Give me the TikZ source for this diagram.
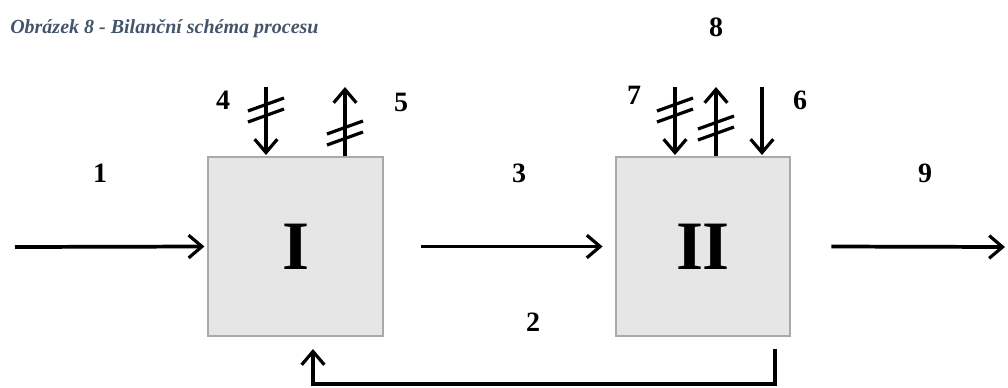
\documentclass[tikz,border=0pt]{standalone}
\usepackage{fontspec}
\setmainfont{Liberation Serif}
\usetikzlibrary{arrows.meta}
\definecolor{boxfill}{HTML}{E6E6E6}
\definecolor{boxline}{HTML}{A9A9A9}
\definecolor{titlecol}{HTML}{44546A}
\begin{document}
\begin{tikzpicture}[x=0.75pt,y=-0.75pt,
  tip/.style={-{Straight Barb[length=10pt,width=17pt,line width=2.4pt]}},
  flow/.style={line width=2.8pt, tip},
  vflow/.style={line width=2.4pt, tip},
  blk/.style={draw=boxline, line width=1.6pt, fill=boxfill, minimum width=131pt, minimum height=134pt, inner sep=0pt, font=\fontsize{52}{52}\selectfont\bfseries},
  lbl/.style={font=\fontsize{21}{21}\selectfont\bfseries, inner sep=0pt},
  tick/.style={line width=2.4pt}]
\useasboundingbox (0,0) rectangle (1008,387);
% title
\node[anchor=west, inner sep=0pt, text=titlecol, font=\fontsize{15}{15}\selectfont\bfseries\itshape] (title) at (10,29) {Obrázek 8 - Bilanční schéma procesu};
% blocks
\node[blk] (b1) at (295.5,246.5) {I};
\node[blk] (b2) at (703,246.5) {II};
% main line
\coordinate (in1) at (15,247);
\coordinate (out9) at (1005,247);
\draw[flow] (in1) -- ([xshift=-2pt]b1.west);
\draw[flow] ([xshift=28pt]b1.east) -- ([xshift=-9pt]b2.west);
\draw[flow] ([xshift=30pt]b2.east) -- (out9);
% feedback
\coordinate (fbA) at (775,349);
\coordinate (fbB) at (775,384);
\coordinate (fbC) at (313,349);
\draw[vflow] (fbA) -- (fbB) -| (fbC);
% top arrows of block I
\coordinate (a4t) at (266,87); \coordinate (a4b) at (266,155);
\draw[vflow] (a4t) -- (a4b);
\draw[tick] (248,111) -- (284,98); \draw[tick] (248,122) -- (284,109);
\coordinate (a5t) at (345,87); \coordinate (a5b) at (345,156);
\draw[vflow] (a5b) -- (a5t);
\draw[tick] (327,134) -- (363,121); \draw[tick] (327,145) -- (363,132);
% top arrows of block II
\coordinate (a7t) at (675,87); \coordinate (a7b) at (675,155);
\draw[vflow] (a7t) -- (a7b);
\draw[tick] (657,111) -- (693,98); \draw[tick] (657,122) -- (693,109);
\coordinate (a8t) at (716,87); \coordinate (a8b) at (716,156);
\draw[vflow] (a8b) -- (a8t);
\draw[tick] (698,129) -- (734,116); \draw[tick] (698,140) -- (734,127);
\coordinate (a6t) at (762,87); \coordinate (a6b) at (762,155);
\draw[vflow] (a6t) -- (a6b);
% labels
\node[lbl] (l1) at (100,173) {1};
\node[lbl] (l2) at (533,322) {2};
\node[lbl] (l3) at (519,173) {3};
\node[lbl] (l4) at (223,100) {4};
\node[lbl] (l5) at (401,102) {5};
\node[lbl] (l6) at (800,100) {6};
\node[lbl] (l7) at (634,95) {7};
\node[lbl] (l8) at (716,27) {8};
\node[lbl] (l9) at (925,173) {9};
\end{tikzpicture}
\end{document}
